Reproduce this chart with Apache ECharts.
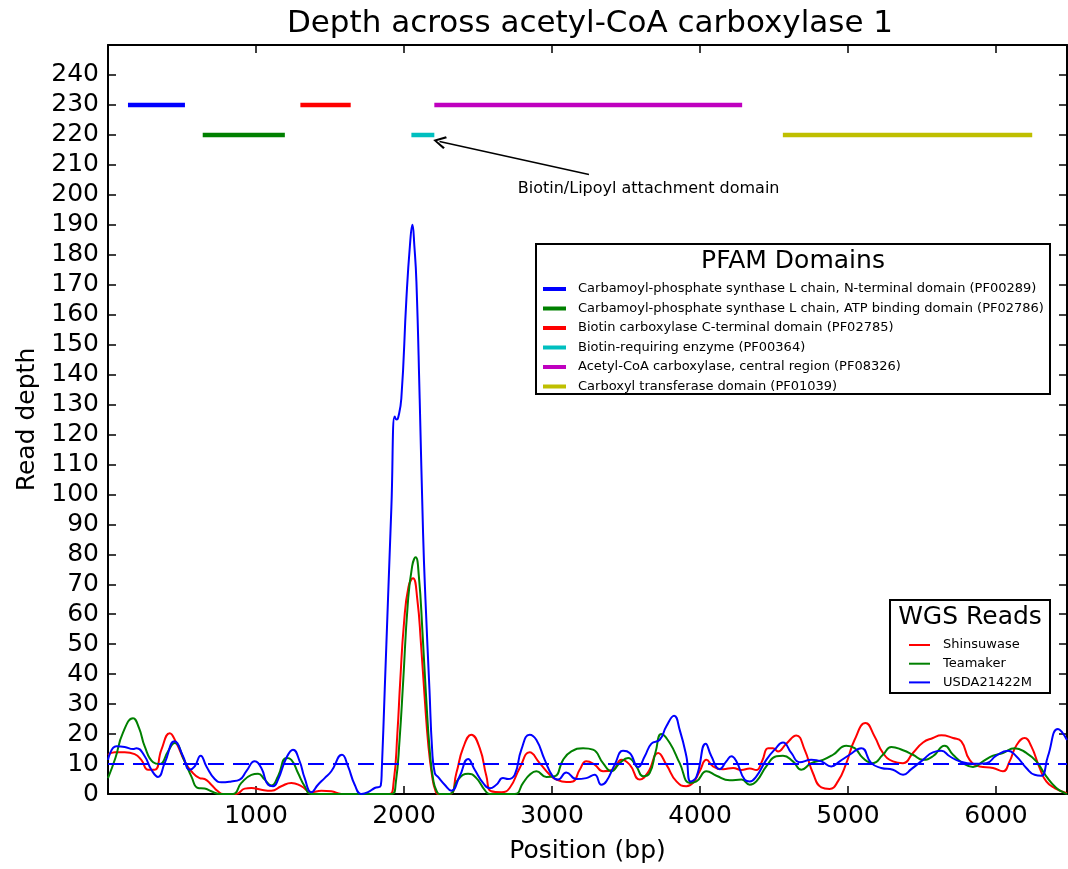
<!DOCTYPE html>
<html>
<head>
<meta charset="utf-8">
<style>
html, body { margin: 0; padding: 0; background: #fff; }
#chart { width: 1068px; height: 869px; }
</style>
</head>
<body>
<div id="chart"></div>
<script src="https://cdn.jsdelivr.net/npm/echarts@6/dist/echarts.min.js"></script>
<script>
// gene length on x, read depth on y
var geneLength = 6480;
var depthMax = 250;
var cutoffDepth = 10;

// PFAM domains, drawn as bars above the coverage
var domainNames = [
    'Carbamoyl-phosphate synthase L chain, N-terminal domain (PF00289)',
    'Carbamoyl-phosphate synthase L chain, ATP binding domain (PF02786)',
    'Biotin carboxylase C-terminal domain (PF02785)',
    'Biotin-requiring enzyme (PF00364)',
    'Acetyl-CoA carboxylase, central region (PF08326)',
    'Carboxyl transferase domain (PF01039)'
];
var domainStart = [135, 640, 1300, 2050, 2205, 4560];
var domainEnd = [520, 1195, 1640, 2205, 4285, 6245];
var domainLevel = [230, 220, 230, 220, 230, 220];

// annotation of the biotin domain
var noteText = 'Biotin/Lipoyl attachment domain';
var noteTextAt = [3653, 202];
var noteFrom = [3250, 206.8];
var noteTo = [2240, 217.8];

// WGS read depth, [position, depth]
var readNames = ['Shinsuwase', 'Teamaker', 'USDA21422M'];

var shinsuwase = [[0,13.1],[45,13.9],[113,13.9],[180,13.3],[225,11.4],[271,8.1],[316,8.1],[361,14.8],[417,20.3],[462,17],[518,10.9],[563,7.6],[619,5.3],[653,5],[698,3.1],[743,0.9],[777,0],[867,0],[924,1.8],[969,2],[1036,1.4],[1104,1.1],[1171,2.6],[1239,3.7],[1306,2.6],[1374,0.6],[1442,1.1],[1509,0.9],[1577,0],[1900,0],[1930,4],[1955,20],[1975,38],[2000,57],[2030,69],[2061,72],[2090,65],[2115,50],[2140,32],[2165,16],[2190,6],[2210,1.5],[2230,0],[2309,0],[2354,7],[2399,15.3],[2455,19.8],[2512,15.3],[2557,5.9],[2590,0.9],[2658,0.6],[2714,2],[2782,8.7],[2849,13.9],[2917,10.3],[2985,6.4],[3030,4.8],[3097,4],[3142,4.2],[3187,8.1],[3232,10.9],[3288,9.8],[3345,7.6],[3413,8.1],[3469,11.4],[3525,9.8],[3593,4.8],[3649,7.2],[3717,13.7],[3773,9.8],[3841,4.2],[3908,2.6],[3953,3.7],[3998,7.6],[4044,11.4],[4088,9.2],[4156,8.3],[4224,8.7],[4280,8],[4336,8.5],[4380,8],[4420,11],[4460,15.3],[4493,15.3],[4527,14.2],[4583,16.8],[4651,19.5],[4707,14.8],[4763,7],[4820,2.2],[4876,1.7],[4932,4.2],[4989,10.3],[5045,18.1],[5119,23.7],[5180,19.2],[5236,13.7],[5304,10.9],[5372,10.3],[5439,13.7],[5507,17.2],[5574,18.7],[5631,19.6],[5710,18.7],[5766,17.6],[5822,11.4],[5890,9.2],[5980,8.7],[6047,7.6],[6092,10.9],[6137,16.1],[6194,18.7],[6239,15.9],[6295,8.7],[6340,4.2],[6396,2],[6480,0.3]];

var teamaker = [[0,5.3],[50,12],[100,20.3],[169,25.3],[210,22],[248,15.9],[305,10.6],[350,10],[405,14.2],[450,17],[518,10.9],[563,5.9],[608,2],[653,1.8],[698,0.9],[754,0],[844,0],[901,3.7],[969,6.4],[1014,6.8],[1059,4.8],[1104,2.8],[1149,5.9],[1205,12],[1239,11.4],[1284,7],[1329,2.6],[1374,0],[1920,0],[1945,4],[1970,18],[1995,38],[2025,63],[2055,76],[2079,79],[2100,73],[2125,54],[2150,32],[2175,14],[2200,4],[2225,0.5],[2240,0],[2309,0],[2365,4.8],[2433,6.8],[2489,5.3],[2545,1.4],[2579,0],[2748,0],[2805,3.7],[2849,6.4],[2894,7.6],[2962,5.7],[3018,5.9],[3075,11.4],[3131,14.2],[3210,15.3],[3277,14.8],[3345,10.3],[3401,7.6],[3458,10.3],[3514,12],[3570,9.2],[3615,5.9],[3660,7],[3700,14],[3739,20],[3796,17],[3863,10.3],[3931,3.7],[3976,4.2],[4044,7.6],[4111,6.1],[4201,4.6],[4280,4.8],[4336,3.1],[4381,4.2],[4448,9.2],[4516,12.6],[4561,12.8],[4628,10.9],[4685,8.1],[4752,10.3],[4831,11.4],[4899,13.1],[4989,16.1],[5045,15.3],[5101,12],[5169,10.3],[5236,13.1],[5293,15.7],[5372,14.6],[5439,13.1],[5507,11.4],[5574,12.6],[5653,16.1],[5710,13.1],[5777,10.3],[5845,9],[5912,10.9],[5980,12.8],[6047,13.7],[6126,15.3],[6205,13.7],[6273,10.9],[6340,5.9],[6408,2],[6464,0.3],[6480,0]];

var usda21422m = [[0,11.4],[56,15.9],[113,15.7],[169,15],[192,15.3],[248,12.6],[293,8.1],[338,5.7],[383,10.3],[450,17.6],[507,12.6],[552,8.1],[586,9.2],[626,12.8],[665,9.2],[721,5],[766,3.9],[833,4.2],[890,4.8],[935,7.6],[991,10.9],[1036,8.7],[1081,3.1],[1115,2.6],[1149,4.8],[1205,12],[1250,14.8],[1295,10.9],[1329,5.3],[1374,0.6],[1419,3.1],[1464,5.3],[1509,7.6],[1581,13.1],[1622,9.2],[1667,3.1],[1712,0],[1757,0.6],[1802,2],[1843,2.8],[1850,8],[1870,35],[1892,65],[1915,96],[1937,126],[1950,125],[1960,125.5],[1982,132],[2016,165],[2040,183],[2057,190],[2070,183],[2084,171],[2106,132],[2129,87],[2145,65],[2172,35],[2190,15],[2208,7],[2230,5.7],[2275,3.1],[2320,1.1],[2376,5.9],[2433,11.7],[2478,8.1],[2534,3.7],[2579,1.9],[2624,3.1],[2669,5.3],[2703,5],[2748,6.4],[2793,14.8],[2849,19.8],[2894,18.1],[2951,11.4],[3007,5.7],[3041,4.8],[3097,7.2],[3165,5],[3232,5.3],[3288,6.4],[3334,3.1],[3367,4.2],[3424,9.8],[3480,14.4],[3525,13.7],[3582,9],[3627,12.6],[3672,16.8],[3728,18.1],[3773,22.6],[3825,26.1],[3863,21.4],[3908,12.6],[3937,4.2],[3976,5.7],[4039,16.8],[4077,12.6],[4133,8.3],[4178,10.9],[4212,12.6],[4246,10.9],[4302,4.8],[4336,4.2],[4381,5.9],[4448,11.4],[4504,14.8],[4561,17.2],[4617,13.7],[4674,10.6],[4752,11.4],[4820,10.9],[4887,9.2],[4944,10.9],[5011,13.1],[5090,15.3],[5158,10.3],[5225,8.7],[5304,8.1],[5372,6.4],[5428,8.3],[5507,11.4],[5574,13.9],[5631,14.4],[5687,12.6],[5755,10.9],[5845,10.1],[5935,10.3],[6002,12.8],[6081,14.4],[6137,12.6],[6205,8.7],[6261,6.4],[6306,6.1],[6351,12.6],[6419,21.7],[6480,18]];

var readData = [shinsuwase, teamaker, usda21422m];

// styles
var domainColors = ['#0000ff', '#008000', '#ff0000', '#00bfbf', '#bf00bf', '#bfbf00'];
var readColors = ['#ff0000', '#008000', '#0000ff'];
var FONT = 'DejaVu Sans';

var myChart = echarts.init(document.getElementById('chart'));

var series = [];
for (var i = 0; i < domainNames.length; i++) {
    series.push({
        name: domainNames[i],
        type: 'line',
        showSymbol: false,
        silent: true,
        color: domainColors[i],
        lineStyle: { width: 4.5, color: domainColors[i], cap: 'butt' },
        data: [[domainStart[i], domainLevel[i]], [domainEnd[i], domainLevel[i]]]
    });
}
// arrow + text go on the biotin-requiring enzyme bar
series[3].markLine = {
    silent: true,
    animation: false,
    symbol: ['none', 'path://M5,0 L10,9 L8.6,10 L5,3 L1.4,10 L0,9 Z'],
    symbolSize: 13,
    label: { show: false },
    lineStyle: { color: '#000', width: 1.5, type: 'solid' },
    data: [[{ coord: noteFrom }, { coord: noteTo }]]
};
series[3].markPoint = {
    silent: true,
    animation: false,
    symbol: 'circle',
    symbolSize: 0,
    label: {
        show: true, position: 'inside', formatter: noteText,
        color: '#000', fontSize: 16, fontFamily: FONT
    },
    data: [{ coord: noteTextAt }]
};

for (var j = 0; j < readNames.length; j++) {
    series.push({
        name: readNames[j],
        type: 'line',
        showSymbol: false,
        silent: true,
        smooth: 0.5,
        color: readColors[j],
        lineStyle: { width: 2, color: readColors[j] },
        data: readData[j]
    });
}
series[series.length - 1].markLine = {
    silent: true,
    animation: false,
    symbol: 'none',
    label: { show: false },
    lineStyle: { color: '#0000ff', width: 2, type: [16, 9] },
    data: [{ yAxis: cutoffDepth }]
};

var axisLineStyle = { show: true, onZero: false, lineStyle: { color: '#000', width: 2 } };
var tickStyle = { show: true, inside: true, length: 8, lineStyle: { color: '#000', width: 1.5 } };
var plainNumber = function (v) { return String(v); };

var option = {
    animation: false,
    backgroundColor: '#fff',
    title: [
        { text: 'Depth across acetyl-CoA carboxylase 1', left: 590, top: 8, padding: 0, textAlign: 'center',
          textStyle: { fontSize: 31, fontWeight: 'normal', color: '#000', fontFamily: FONT } },
        { text: 'PFAM Domains', left: 793, top: 249, padding: 0, textAlign: 'center',
          textStyle: { fontSize: 25, fontWeight: 'normal', color: '#000', fontFamily: FONT } },
        { text: 'WGS Reads', left: 970, top: 605, padding: 0, textAlign: 'center',
          textStyle: { fontSize: 25, fontWeight: 'normal', color: '#000', fontFamily: FONT } }
    ],
    graphic: [
        { type: 'rect', z: 3, shape: { x: 536, y: 244, width: 514, height: 150 },
          style: { fill: '#fff', stroke: '#000', lineWidth: 2 } },
        { type: 'rect', z: 3, shape: { x: 890, y: 600, width: 160, height: 93 },
          style: { fill: '#fff', stroke: '#000', lineWidth: 2 } }
    ],
    legend: [
        { data: domainNames, orient: 'vertical', left: 543, top: 282.5, padding: 0, z: 5,
          icon: 'rect', itemWidth: 23, itemHeight: 4, itemGap: 6.5, selectedMode: false,
          textStyle: { fontSize: 13, color: '#000', fontFamily: FONT, padding: [0, 0, 0, 7] } },
        { data: readNames, orient: 'vertical', left: 909, top: 638.5, padding: 0, z: 5,
          icon: 'rect', itemWidth: 21, itemHeight: 2, itemGap: 5.7, selectedMode: false,
          textStyle: { fontSize: 13, color: '#000', fontFamily: FONT, padding: [0, 0, 0, 8] } }
    ],
    grid: { left: 108, right: 1, top: 45, bottom: 75, containLabel: false },
    xAxis: [
        { type: 'value', position: 'bottom', min: 0, max: geneLength, interval: 1000,
          axisLine: axisLineStyle, axisTick: tickStyle, splitLine: { show: false },
          axisLabel: { fontSize: 25, color: '#000', fontFamily: FONT, margin: 10, formatter: plainNumber,
                       showMinLabel: false, showMaxLabel: false },
          name: 'Position (bp)', nameLocation: 'middle', nameGap: 45,
          nameTextStyle: { fontSize: 25, color: '#000', fontFamily: FONT } },
        { type: 'value', position: 'top', min: 0, max: geneLength, interval: 1000,
          axisLine: axisLineStyle, axisTick: tickStyle, splitLine: { show: false },
          axisLabel: { show: false } }
    ],
    yAxis: [
        { type: 'value', position: 'left', min: 0, max: depthMax, interval: 10,
          axisLine: axisLineStyle, axisTick: tickStyle, splitLine: { show: false },
          axisLabel: { fontSize: 25, color: '#000', fontFamily: FONT, margin: 9, formatter: plainNumber,
                       showMaxLabel: false },
          name: 'Read depth', nameLocation: 'middle', nameGap: 68,
          nameTextStyle: { fontSize: 25, color: '#000', fontFamily: FONT } },
        { type: 'value', position: 'right', min: 0, max: depthMax, interval: 10,
          axisLine: axisLineStyle, axisTick: tickStyle, splitLine: { show: false },
          axisLabel: { show: false } }
    ],
    series: series
};

option && myChart.setOption(option);
</script>
</body>
</html>
